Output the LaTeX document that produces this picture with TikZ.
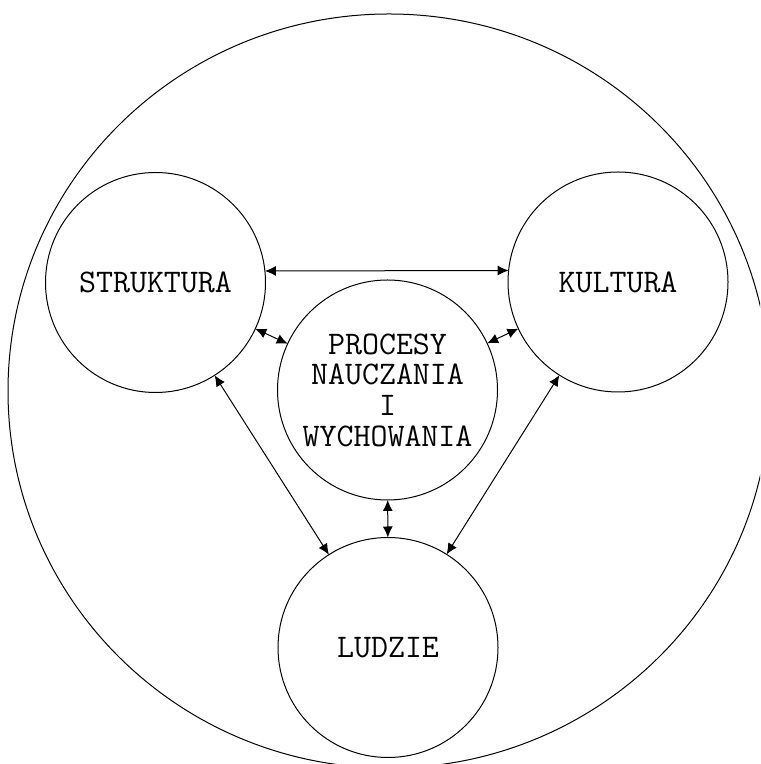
\documentclass[tikz,border=0pt]{standalone}
\usepackage{tikz}
\usetikzlibrary{shapes,arrows.meta,positioning}
\tikzstyle{sphere} = [circle, draw=black, line width=0.5pt, inner sep=0pt, outer sep=0pt,
    minimum size=110pt, align=center, font=\ttfamily\fontsize{16.5}{15.35}\selectfont]
\tikzstyle{link} = [{Latex[length=5.5pt,width=5pt]}-{Latex[length=5.5pt,width=5pt]}, line width=0.5pt, black]

\begin{document}
\begin{tikzpicture}[x=0.5pt,y=0.5pt]
\clip (0,0) rectangle (760,764);
\fill[white] (0,0) rectangle (760,764);
\draw[line width=0.5pt] (389,373) ellipse [x radius=381, y radius=377];
\node[sphere] (struktura) at (155.5,481.5) {STRUKTURA};
\node[sphere] (kultura) at (618,482) {KULTURA};
\node[sphere] (procesy) at (387.5,374) {PROCESY\\NAUCZANIA\\I\\WYCHOWANIA};
\node[sphere] (ludzie) at (388,116.5) {LUDZIE};
\draw[link] (struktura.6) -- (kultura.174);
\draw[link] (struktura) -- (procesy);
\draw[link] (kultura) -- (procesy);
\draw[link] (struktura) -- (ludzie);
\draw[link] (kultura) -- (ludzie);
\draw[link] (procesy) -- (ludzie);
\end{tikzpicture}
\end{document}
